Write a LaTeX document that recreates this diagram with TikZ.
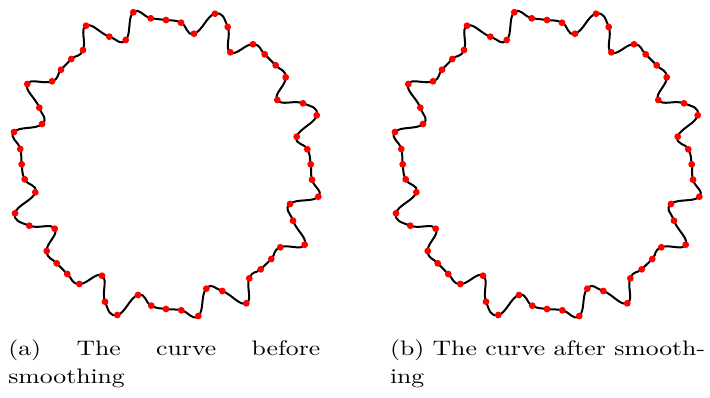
\documentclass[tikz,border=0pt]{standalone}
\usepackage{graphicx}
\tikzset{
  curveline/.style={line width=2pt, black, line join=round},
  reddot/.style={fill=red, draw=none},
  captext/.style={anchor=base west, inner sep=0pt, outer sep=0pt}
}
\newcommand\dotlist{133.3/12.3, 150.7/18.3, 166/20, 181/22.7, 194/33.7, 215/13.7, 227.7/27, 230.3/52.3, 253/44.3, 264.7/54.3, 275.7/65.3, 285.7/77.3, 277.3/100, 303/103.3, 316.7/115.3, 296.7/136.7, 307.3/149.3, 310.7/164.3, 312/179.7, 318.3/196.7, 290/204, 293/220.7, 304.7/244.7, 280.3/247.3, 271.3/259, 260.7/269.3, 249.3/278.3, 246.3/303.3, 222.3/291, 206.3/288.7, 198.3/316, 181.3/310.3, 166/309, 151.3/305.7, 138/295, 117.3/315, 105/301.7, 102/275.7, 79.3/284, 67.3/274, 56.7/263.3, 46.7/251, 54.7/228.7, 29.3/225.7, 15/213.3, 35.3/192.3, 24.7/179.3, 21.7/164.3, 20.3/149, 14/132, 42/124, 39.3/107.7, 27.3/84, 52/81.3, 61/69.7, 71.3/59, 83/50, 86/25.7, 109.3/36.7, 125.7/40}
\begin{document}
\begin{tikzpicture}[x=1pt,y=-1pt]
\useasboundingbox (0,0) rectangle (710,398);
\foreach \dx in {0,381}{
\begin{scope}[xshift=\dx pt]
\draw[curveline] plot[smooth cycle, tension=0.85] coordinates {(133.3,12.3) (150.7,18.3) (166,20) (181,22.7) (194,33.7) (215,13.7) (227.7,27) (230.3,52.3) (253,44.3) (264.7,54.3) (275.7,65.3) (285.7,77.3) (277.3,100) (303,103.3) (316.7,115.3) (296.7,136.7) (307.3,149.3) (310.7,164.3) (312,179.7) (318.3,196.7) (290,204) (293,220.7) (304.7,244.7) (280.3,247.3) (271.3,259) (260.7,269.3) (249.3,278.3) (246.3,303.3) (222.3,291) (206.3,288.7) (198.3,316) (181.3,310.3) (166,309) (151.3,305.7) (138,295) (117.3,315) (105,301.7) (102,275.7) (79.3,284) (67.3,274) (56.7,263.3) (46.7,251) (54.7,228.7) (29.3,225.7) (15,213.3) (35.3,192.3) (24.7,179.3) (21.7,164.3) (20.3,149) (14,132) (42,124) (39.3,107.7) (27.3,84) (52,81.3) (61,69.7) (71.3,59) (83,50) (86,25.7) (109.3,36.7) (125.7,40)};
\foreach \px/\py in \dotlist {\fill[reddot] (\px,\py) circle[radius=3.4pt];}
\end{scope}}
\node[captext] (capa1) at (8.3,355.5) {\scalebox{2.57}[2.1]{\makebox[121.4pt][s]{(a) The curve before}}};
\node[captext] (capa2) at (8.3,383.5) {\scalebox{2.57}[2.1]{smoothing}};
\node[captext] (capb1) at (390,355.5) {\scalebox{2.57}[2.1]{\makebox[122.6pt][s]{(b) The curve after smooth-}}};
\node[captext] (capb2) at (390,383.5) {\scalebox{2.57}[2.1]{ing}};
\end{tikzpicture}
\end{document}
